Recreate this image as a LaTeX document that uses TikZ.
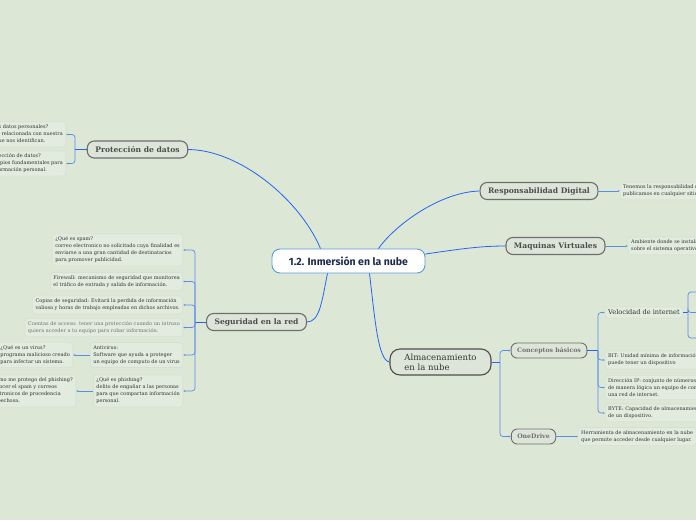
\documentclass[tikz,border=0pt]{standalone}
\usepackage{fontspec}
\setmainfont{DejaVu Serif}
\newfontfamily\slab{DejaVu Serif}
\newfontfamily\titlesans{Fira Sans}
\usetikzlibrary{positioning,arrows.meta,calc}
\definecolor{mapbg}{HTML}{DCE7D6}
\definecolor{leafbg}{HTML}{E1EBDE}
\definecolor{leafline}{HTML}{D2DDCE}
\definecolor{topicbg}{HTML}{DDE5D9}
\definecolor{topicline}{HTML}{6E6E6E}
\definecolor{topictext}{HTML}{4D4D4D}
\definecolor{mapblue}{HTML}{2563F5}
\definecolor{brkblue}{HTML}{5A8CEB}
\definecolor{centerline}{HTML}{5A9BD8}
\definecolor{centertext}{HTML}{1E2B50}

\begin{document}
\begin{tikzpicture}[x=1pt,y=1pt,
    topic/.style={draw=topicline, line width=1.1pt, fill=topicbg, rounded corners=7pt, text=topictext, font=\slab\bfseries\fontsize{7.6}{8.5}\selectfont, inner xsep=8pt, minimum height=17pt},
    subtopic/.style={topic, line width=0.9pt, rounded corners=6pt, font=\slab\bfseries\fontsize{6.2}{7}\selectfont, inner xsep=6pt, minimum height=15pt, text=topictext!80!white},
    leaf/.style={fill=leafbg, draw=leafline, rounded corners=3pt, align=left, inner sep=3pt, font=\fontsize{5}{7}\selectfont, text=black!80},
    branch/.style={mapblue, line width=0.8pt},
    brk/.style={brkblue, line width=0.7pt, rounded corners=3pt},
    brkarrow/.style={brk, -{Latex[length=2.2pt,width=2pt]}}]
        \fill[mapbg] (0,0) rectangle (696,-520);
        \clip (0,0) rectangle (696,-520);
        % centre and main topics
        \node[draw=centerline, line width=0.9pt, fill=white, rounded corners=8pt, minimum width=153pt, minimum height=24pt, text=centertext, font=\titlesans\bfseries\fontsize{10.5}{12}\selectfont] (nube) at (348.5,-261) {1.2. Inmersión en la nube};
        \node[topic] (prot) at (137.5,-149.5) {Protección de datos};
        \node[topic] (resp) at (539,-191) {Responsabilidad Digital};
        \node[topic] (maq) at (555.5,-246) {Maquinas Virtuales};
        \node[topic] (segu) at (256.5,-322) {Seguridad en la red};
        \node[topic, draw=topicline!70!black, text=black!80, font=\slab\fontsize{8.5}{10}\selectfont, align=left, rounded corners=10pt, minimum width=101pt, minimum height=26pt] (alm) at (440.5,-362) {Almacenamiento\\en la nube};
        \node[subtopic] (conc) at (549,-350.5) {Conceptos básicos};
        \node[subtopic] (oned) at (533.5,-436.5) {OneDrive};
        % leaves, left side
        \node[leaf, anchor=east] (prot1) at (66,-134.5) {¿Qué son los datos personales?\\Información relacionada con nuestra\\persona y que nos identifican.};
        \node[leaf, anchor=east] (prot2) at (66,-163.5) {¿Protección de datos?\\Principios fundamentales para\\la información personal.};
        \node[leaf, anchor=east] (spam) at (183,-250) {¿Qué es spam?\\correo electronico no solicitado cuya finalidad es\\enviarse a una gran cantidad de destinatarios\\para promover publicidad.};
        \node[leaf, anchor=east] (firewall) at (183,-281.5) {Firewall: mecanismo de seguridad que monitorea\\el tráfico de entrada y salida de información.};
        \node[leaf, anchor=east] (copias) at (183,-305) {Copias de seguridad: Evitará la perdida de información\\valiosa y horas de trabajo empleadas en dichos archivos.};
        \node[leaf, anchor=east, text=black!55] (cuentas) at (183,-327.5) {Cuentas de acceso: tener una protección cuando un intruso\\quiera acceder a tu equipo para robar información.};
        \node[leaf, anchor=east] (antivirus) at (183,-355) {Antivirus:\\Software que ayuda a proteger\\un equipo de computo de un virus};
        \node[leaf, anchor=east] (virus) at (73,-355) {¿Qué es un virus?\\programa malicioso creado\\para infectar un sistema.};
        \node[leaf, anchor=east] (phishing) at (183,-391) {¿Qué es phishing?\\delito de engañar a las personas\\para que compartan información\\personal.};
        \node[leaf, anchor=east] (phish2) at (76,-391) {¿Cómo me protego del phishing?\\Conocer el spam y correos\\electronicos de procedencia\\sospechosa.};
        % leaves, right side
        \node[leaf, anchor=west] (respleaf) at (620,-191) {Tenemos la responsabilidad de lo que\\publicamos en cualquier sitio.};
        \node[leaf, anchor=west] (maqleaf) at (628,-246) {Ambiente donde se instala un sistema\\sobre el sistema operativo.};
        \node[leaf, anchor=west, font=\fontsize{6.6}{8}\selectfont] (veloc) at (605,-312.5) {Velocidad de internet};
        \node[leaf, anchor=west] (bit) at (605,-360) {BIT: Unidad mínima de información que\\puede tener un dispositivo};
        \node[leaf, anchor=west] (dirip) at (605,-387.5) {Dirección IP: conjunto de números que identifica\\de manera lógica un equipo de computo en\\una red de internet.};
        \node[leaf, anchor=west] (byte) at (605,-413) {BYTE: Capacidad de almacenamiento\\de un dispositivo.};
        \node[leaf, anchor=west] (onedleaf) at (578,-436.5) {Herramienta de almacenamiento en la nube\\que permite acceder desde cualquier lugar.};
        % branches from the centre
        \draw[branch] ([xshift=-28pt]nube.north) .. controls (300,-200) and (240,-150) .. (prot.east);
        \draw[branch] ([xshift=30pt]nube.north) .. controls (395,-225) and (440,-192) .. (resp.west);
        \draw[branch] ([yshift=7pt]nube.east) .. controls (460,-249) and (480,-246) .. (maq.west);
        \draw[branch] ([xshift=-21pt]nube.south) .. controls (322,-300) and (320,-322) .. (segu.east);
        \draw[branch] ([xshift=21pt]nube.south) .. controls (375,-320) and (378,-360) .. (alm.west);
        % brackets
        \coordinate (protB) at (75,-149.5);
        \coordinate (seguB) at (195,-322);
        \coordinate (almB) at (500,-362);
        \coordinate (concB) at (598,-350.5);
        \coordinate (velB) at (688,-312.5);
        \coordinate (vel1) at (704,-292);
        \coordinate (vel2) at (704,-312.5);
        \coordinate (vel3) at (704,-338);
        \draw[branch] (prot.west) -- (protB);
        \draw[branch] (segu.west) -- (seguB);
        \draw[branch] (alm.east) -- (almB);
        \draw[branch] (conc.east) -- (concB);
        \draw[branch] (veloc.east) -- (velB);
        \foreach \k in {prot1,prot2} \draw[brkarrow] (protB) |- (\k.east);
        \foreach \k in {spam,firewall,copias,cuentas,antivirus,phishing} \draw[brkarrow] (seguB) |- (\k.east);
        \foreach \k in {conc,oned} \draw[brkarrow] (almB) |- (\k.west);
        \foreach \k in {veloc,bit,dirip,byte} \draw[brkarrow] (concB) |- (\k.west);
        \foreach \k in {vel1,vel2,vel3} \draw[brkarrow] (velB) |- (\k);
        \draw[brkarrow] (antivirus.west) -- (virus.east);
        \draw[brkarrow] (phishing.west) -- (phish2.east);
        \draw[brkarrow] (resp.east) -- (respleaf.west);
        \draw[brkarrow] (maq.east) -- (maqleaf.west);
        \draw[brkarrow] (oned.east) -- (onedleaf.west);
      \end{tikzpicture}
\end{document}
